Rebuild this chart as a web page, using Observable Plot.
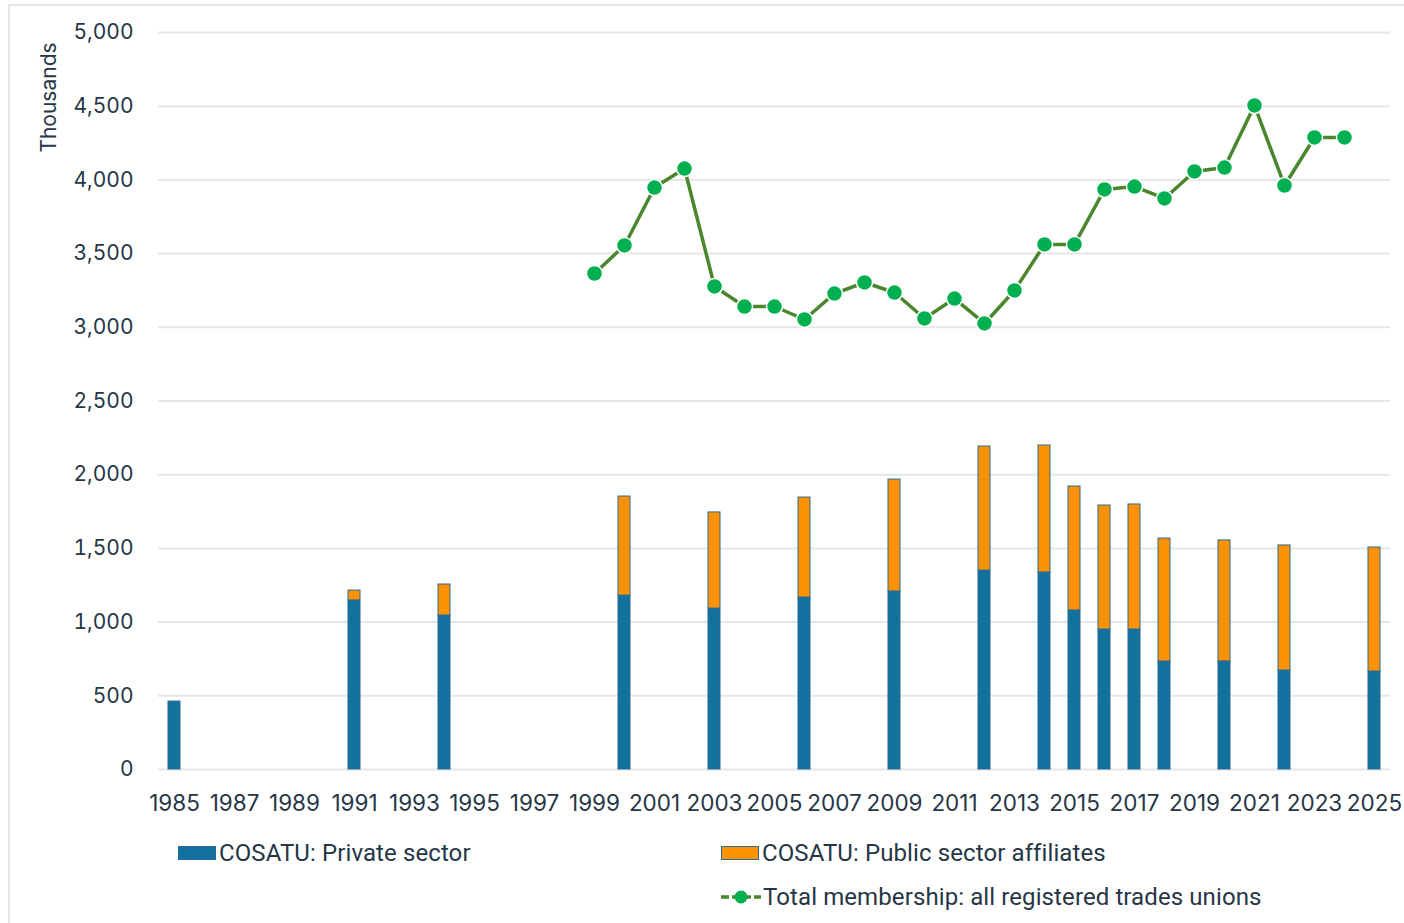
<!DOCTYPE html>
<html>
<head>
<meta charset="utf-8">
<script src="https://cdn.jsdelivr.net/npm/d3@7"></script>
<script src="https://cdn.jsdelivr.net/npm/@observablehq/plot@0.6"></script>
<style>
  html, body { margin: 0; padding: 0; background: #fff; }
  body { width: 1404px; height: 923px; position: relative; overflow: hidden; font-family: Inter, "Noto Sans", sans-serif; color: #263646; }
  #frame { position: absolute; left: 8px; top: 4px; width: 1410px; height: 940px; border: 2px solid #e6e6e6; box-sizing: border-box; }
  #chart { position: absolute; left: 0; top: 0; }
  .leg { position: absolute; font-family: Roboto, "Noto Sans", sans-serif; font-size: 24px; letter-spacing: 0.1px; color: #263646; display: flex; align-items: center; white-space: nowrap; }
  .sw { display: inline-block; width: 38px; height: 14px; box-sizing: border-box; border: 1px solid #2a6a96; margin-right: 3px; }
  .ytitle { position: absolute; font-size: 21px; transform: rotate(-90deg); transform-origin: center; white-space: nowrap; }
</style>
</head>
<body>
<div id="frame"></div>
<div id="chart"></div>
<div class="ytitle" id="ytitle">Thousands</div>
<div class="leg" style="left:178px; top:839px;"><span class="sw" style="background:#12719e"></span>COSATU: Private sector</div>
<div class="leg" style="left:721px; top:839px;"><span class="sw" style="background:#ff9200"></span>COSATU: Public sector affiliates</div>
<div class="leg" style="left:720px; top:883px;"><svg width="42" height="20" style="margin-right:1px"><line x1="1" y1="10" x2="41" y2="10" stroke="#4a862c" stroke-width="3.5" stroke-dasharray="8,3"/><circle cx="21" cy="10" r="6.5" fill="#00b050"/></svg>Total membership: all registered trades unions</div>
<script>
// Categories (all years on the axis)
const years = d3.range(1985, 2026);
const tickYears = years.filter(y => (y - 1985) % 2 === 0);

// COSATU bars (thousands)
const barYears = [1985, 1991, 1994, 2000, 2003, 2006, 2009, 2012, 2014, 2015, 2016, 2017, 2018, 2020, 2022, 2025];
const privateSector = [461, 1147, 1045, 1180, 1092, 1167, 1208, 1350, 1337, 1079, 950, 950, 733, 733, 672, 665];
const publicSector  = [0, 67, 210, 672, 652, 678, 759, 841, 861, 841, 841, 848, 834, 821, 848, 841];

// Total membership of all registered trade unions (thousands)
const lineYears = [1999, 2000, 2001, 2002, 2003, 2004, 2005, 2006, 2007, 2008, 2009, 2010, 2011, 2012, 2013, 2014, 2015, 2016, 2017, 2018, 2019, 2020, 2021, 2022, 2023, 2024];
const totalMembership = [3365, 3555, 3948, 4077, 3277, 3141, 3141, 3053, 3229, 3304, 3236, 3060, 3195, 3026, 3250, 3562, 3562, 3935, 3955, 3874, 4057, 4084, 4505, 3962, 4288, 4288];

const yTicks = d3.range(0, 5001, 500);

const barData = [];
barYears.forEach((y, i) => {
  barData.push({year: y, series: "Private", value: privateSector[i]});
  barData.push({year: y, series: "Public", value: publicSector[i]});
});
const lineData = lineYears.map((y, i) => ({year: y, value: totalMembership[i]}));

const plot = Plot.plot({
  width: 1404,
  height: 825,
  marginLeft: 158,
  marginRight: 14,
  marginTop: 32,
  marginBottom: 56,
  style: {fontFamily: "Inter, 'Noto Sans', sans-serif", fontSize: "22px", color: "#263646", background: "transparent", overflow: "visible"},
  x: {type: "band", domain: years, paddingInner: 0.6, paddingOuter: 0.3, align: 0.5, label: null},
  y: {domain: [0, 5000], label: null},
  color: {domain: ["Private", "Public"], range: ["#12719e", "#ff9200"]},
  marks: [
    Plot.gridY(yTicks, {stroke: "#e6e6e6", strokeOpacity: 1, strokeWidth: 2}),
    Plot.axisY(yTicks, {tickSize: 0, tickPadding: 25, tickFormat: d3.format(","), fontSize: 21, label: null}),
    Plot.axisX(tickYears, {tickSize: 0, tickPadding: 26, tickFormat: d => String(d), fontSize: 22.5, label: null}),
    Plot.barY(barData, {x: "year", y: "value", fill: "series", stroke: "#2a6a96", strokeWidth: 1, order: ["Private", "Public"]}),
    Plot.line(lineData, {x: "year", y: "value", stroke: "#4a862c", strokeWidth: 3.5}),
    Plot.dot(lineData, {x: "year", y: "value", r: 8, fill: "#00b050", stroke: "#ffffff", strokeWidth: 1.5})
  ]
});
document.getElementById("chart").appendChild(plot);

const yt = document.getElementById("ytitle");
const w = yt.offsetWidth, h = yt.offsetHeight;
yt.style.left = (48 - w / 2) + "px";
yt.style.top = (97 - h / 2) + "px";
</script>
</body>
</html>
